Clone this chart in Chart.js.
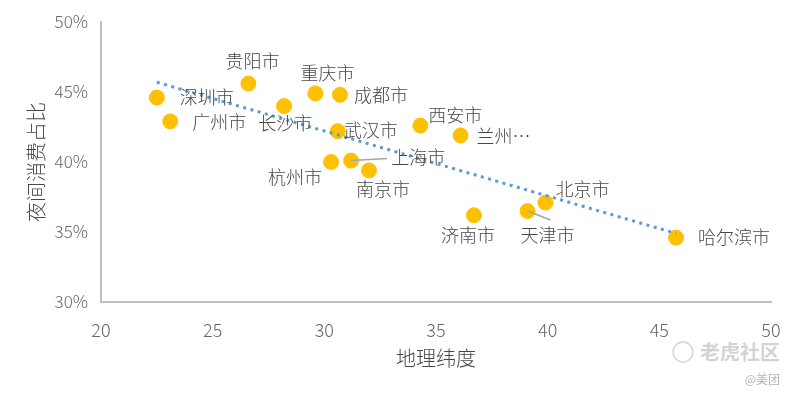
<!DOCTYPE html>
<html>
<head>
<meta charset="utf-8">
<script src="https://cdn.jsdelivr.net/npm/chart.js@4.4.0/dist/chart.umd.min.js"></script>
<style>
  html, body { margin: 0; padding: 0; background: #fff; }
</style>
</head>
<body>
<canvas id="chart" width="794" height="397"></canvas>
<script>
// data
const cities = ['深圳市', '广州市', '贵阳市', '长沙市', '重庆市', '成都市', '武汉市', '杭州市',
                '上海市', '南京市', '西安市', '兰州…', '北京市', '济南市', '天津市', '哈尔滨市'];
const latitude = [22.5, 23.1, 26.6, 28.2, 29.6, 30.7, 30.6, 30.3,
                  31.2, 32.0, 34.3, 36.1, 39.9, 36.7, 39.1, 45.75];
const nightShare = [44.6, 42.9, 45.6, 44.0, 44.9, 44.8, 42.2, 40.0,
                    40.1, 39.4, 42.6, 41.9, 37.1, 36.2, 36.5, 34.6];
// trendline end points (as drawn)
const trendLat = [22.5, 45.75];
const trendShare = [45.7, 34.9];

const xTicks = [20, 25, 30, 35, 40, 45, 50];
const yTicks = [30, 35, 40, 45, 50];

const fontFamily = '"Noto Sans CJK SC", "Noto Sans", sans-serif';

// where each label sits relative to its point (dx, dy in px), plus optional leader line end
const labelPos = {
    '深圳市': [23, 0], '广州市': [22, 1], '贵阳市': [-23, -22], '长沙市': [-26, 17],
    '重庆市': [-15, -20], '成都市': [14, 0], '武汉市': [6, -1], '杭州市': [-63, 15],
    '上海市': [40, -3, 36, -2], '南京市': [-13, 19], '西安市': [8, -10], '兰州…': [16, 1],
    '北京市': [10, -13], '济南市': [-33, 20], '天津市': [-7, 24, 23, 9], '哈尔滨市': [22, 0]
};

const labelPlugin = {
    id: 'cityLabels',
    afterDatasetsDraw(chart) {
        const ctx = chart.ctx;
        const xs = chart.scales.x, ys = chart.scales.y;
        ctx.save();
        // leader lines + labels
        cities.forEach((name, i) => {
            const px = xs.getPixelForValue(latitude[i]);
            const py = ys.getPixelForValue(nightShare[i]);
            const p = labelPos[name];
            if (p.length > 2) {
                ctx.strokeStyle = '#a6a6a6';
                ctx.lineWidth = 1.5;
                ctx.beginPath();
                ctx.moveTo(px, py);
                ctx.lineTo(px + p[2], py + p[3]);
                ctx.stroke();
            }
            ctx.fillStyle = '#474747';
            ctx.font = '300 18px ' + fontFamily;
            ctx.textAlign = 'left';
            ctx.textBaseline = 'middle';
            ctx.fillText(name, px + p[0], py + p[1]);
        });

        // axis titles
        const area = chart.chartArea;
        ctx.fillStyle = '#474747';
        ctx.font = '300 20px ' + fontFamily;
        ctx.textAlign = 'center';
        ctx.textBaseline = 'middle';
        ctx.fillText('地理纬度', (area.left + area.right) / 2, 358);
        ctx.save();
        ctx.translate(36, (area.top + area.bottom) / 2);
        ctx.rotate(-Math.PI / 2);
        ctx.fillText('夜间消费占比', 0, 0);
        ctx.restore();

        // watermark
        ctx.strokeStyle = '#d5d5d5';
        ctx.lineWidth = 1.5;
        ctx.beginPath();
        ctx.arc(683, 352, 10, 0, Math.PI * 2);
        ctx.stroke();
        ctx.fillStyle = '#d3d3d3';
        ctx.font = 'bold 20px ' + fontFamily;
        ctx.textAlign = 'right';
        ctx.fillText('老虎社区', 780, 352);
        ctx.font = '12px ' + fontFamily;
        ctx.fillStyle = '#b5b5b5';
        ctx.fillText('@美团', 780, 379);
        ctx.restore();
    }
};

new Chart(document.getElementById('chart'), {
    type: 'scatter',
    data: {
        datasets: [{
            label: '趋势线',
            type: 'line',
            data: trendLat.map((x, i) => ({ x: x, y: trendShare[i] })),
            borderColor: '#5b9bd5',
            borderWidth: 3,
            borderDash: [3, 4.5],
            borderCapStyle: 'butt',
            pointRadius: 0,
            fill: false,
            order: 0
        }, {
            label: '城市',
            data: latitude.map((x, i) => ({ x: x, y: nightShare[i] })),
            backgroundColor: '#ffc000',
            borderColor: '#ffc000',
            pointRadius: 7.5,
            pointHoverRadius: 7.5,
            order: 1
        }]
    },
    options: {
        responsive: false,
        animation: false,
        layout: { padding: { top: 22, right: 23, bottom: 0, left: 0 } },
        plugins: {
            legend: { display: false },
            tooltip: { enabled: false }
        },
        scales: {
            x: {
                type: 'linear',
                min: 20,
                max: 50,
                afterBuildTicks: (scale) => { scale.ticks = xTicks.map(v => ({ value: v })); },
                afterFit: (scale) => {
                    scale.height = 95;
                    scale.paddingLeft = 0;
                    scale.paddingRight = 0;
                },
                grid: { display: false, drawTicks: false },
                border: { display: true, color: '#bfbfbf', width: 2 },
                ticks: { color: '#666666', padding: 17, font: { size: 18, weight: 300, family: fontFamily } }
            },
            y: {
                min: 30,
                max: 50,
                afterBuildTicks: (scale) => { scale.ticks = yTicks.map(v => ({ value: v })); },
                afterFit: (scale) => {
                    scale.width = 101;
                    scale.paddingTop = 0;
                    scale.paddingBottom = 0;
                },
                grid: { display: false, drawTicks: false },
                border: { display: true, color: '#bfbfbf', width: 2 },
                ticks: {
                    color: '#666666',
                    padding: 13,
                    font: { size: 17, weight: 300, family: fontFamily },
                    callback: (v) => v + '%'
                }
            }
        }
    },
    plugins: [labelPlugin]
});
</script>
</body>
</html>
